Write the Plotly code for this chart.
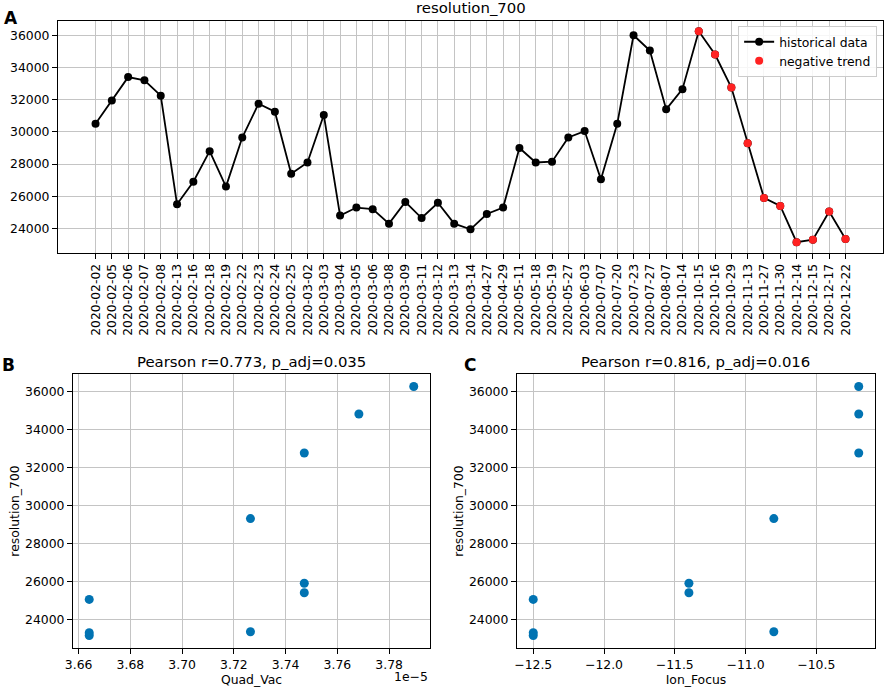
import plotly.graph_objects as go

# resolution_700 over time
dates = ['2020-02-02', '2020-02-05', '2020-02-06', '2020-02-07', '2020-02-08',
         '2020-02-13', '2020-02-16', '2020-02-18', '2020-02-19', '2020-02-22',
         '2020-02-23', '2020-02-24', '2020-02-25', '2020-03-02', '2020-03-03',
         '2020-03-04', '2020-03-05', '2020-03-06', '2020-03-08', '2020-03-09',
         '2020-03-11', '2020-03-12', '2020-03-13', '2020-03-14', '2020-04-27',
         '2020-04-29', '2020-05-11', '2020-05-18', '2020-05-19', '2020-05-27',
         '2020-06-03', '2020-07-07', '2020-07-20', '2020-07-23', '2020-07-27',
         '2020-08-07', '2020-10-14', '2020-10-15', '2020-10-16', '2020-10-29',
         '2020-11-13', '2020-11-27', '2020-11-30', '2020-12-14', '2020-12-15',
         '2020-12-17', '2020-12-22']
resolution = [30500, 31950, 33400, 33200, 32250, 25500, 26900, 28800, 26600, 29650,
              31750, 31250, 27400, 28100, 31050, 24800, 25300, 25200, 24300, 25650,
              24650, 25600, 24300, 23950, 24900, 25300, 29000, 28100, 28150, 29650,
              30050, 27050, 30500, 36000, 35050, 31400, 32650, 36250, 34800, 32750,
              29300, 25900, 25400, 23150, 23300, 25050, 23350]
trend_start = '2020-10-15'

# parameters at the negative-trend points (same order)
quad_vac = [3.7895e-5, 3.7683e-5, 3.7472e-5, 3.7264e-5, 3.7472e-5,
            3.7472e-5, 3.6641e-5, 3.6641e-5, 3.6641e-5, 3.7264e-5]
ion_focus = [-10.2, -10.2, -10.2, -10.8, -11.4, -11.4, -12.5, -12.5, -12.5, -10.8]

quad_ticks = ['3.66', '3.68', '3.70', '3.72', '3.74', '3.76', '3.78']
res_ticks = [24000, 26000, 28000, 30000, 32000, 34000, 36000]

i0 = dates.index(trend_start)
trend_dates = dates[i0:]
trend_res = resolution[i0:]

FONT = 'DejaVu Sans'
GRID = '#c4c4c4'
BLUE = '#0173b2'
fs = 12.4
title_fs = 14.9


def lo_hi(vals):
    pad = (max(vals) - min(vals)) * 0.05
    return [min(vals) - pad, max(vals) + pad]


fig = go.Figure()

fig.add_trace(go.Scatter(x=dates, y=resolution, mode='lines+markers', name='historical data',
                         line=dict(color='black', width=1.8),
                         marker=dict(color='black', size=8), xaxis='x', yaxis='y'))
fig.add_trace(go.Scatter(x=trend_dates, y=trend_res, mode='markers', name='negative trend',
                         marker=dict(color='#ff2222', size=8), xaxis='x', yaxis='y'))

fig.add_trace(go.Scatter(x=quad_vac, y=trend_res, mode='markers', showlegend=False,
                         marker=dict(color=BLUE, size=9), xaxis='x2', yaxis='y2'))
fig.add_trace(go.Scatter(x=ion_focus, y=trend_res, mode='markers', showlegend=False,
                         marker=dict(color=BLUE, size=9), xaxis='x3', yaxis='y3'))

axis_common = dict(showline=True, linecolor='black', linewidth=1.2, mirror=True,
                   ticks='outside', ticklen=5, tickcolor='black', showgrid=True,
                   gridcolor=GRID, gridwidth=1, zeroline=False, automargin=False,
                   tickfont=dict(family=FONT, size=fs, color='black'))

yr = lo_hi(resolution)

fig.update_layout(
    width=886, height=689,
    margin=dict(l=0, r=0, t=0, b=0),
    paper_bgcolor='white', plot_bgcolor='white',
    font=dict(family=FONT, size=fs, color='black'),
    showlegend=True,
    legend=dict(x=0.990, y=0.962, xanchor='right', yanchor='top',
                bgcolor='rgba(255,255,255,0.85)', bordercolor='#cccccc', borderwidth=1,
                font=dict(family=FONT, size=fs), tracegroupgap=0),
    xaxis=dict(axis_common, domain=[0.0655, 0.9966], anchor='y', type='category',
               range=[-2.3, len(dates) - 1 + 2.3], tickmode='array', tickvals=dates,
               ticktext=dates, tickangle=-90),
    yaxis=dict(axis_common, domain=[0.6332, 0.970], anchor='x', range=yr,
               tickvals=res_ticks, tickformat='d'),
    xaxis2=dict(axis_common, domain=[0.0824, 0.4853], anchor='y2', range=lo_hi(quad_vac),
                tickmode='array', tickvals=[float(t) * 1e-5 for t in quad_ticks],
                ticktext=quad_ticks,
                title=dict(text='Quad_Vac', font=dict(family=FONT, size=fs), standoff=4)),
    yaxis2=dict(axis_common, domain=[0.0595, 0.4572], anchor='x2', range=yr,
                tickvals=res_ticks, tickformat='d',
                title=dict(text='resolution_700', font=dict(family=FONT, size=fs), standoff=2)),
    xaxis3=dict(axis_common, domain=[0.5835, 0.9876], anchor='y3', range=lo_hi(ion_focus),
                tick0=-12.5, dtick=0.5, tickformat='.1f',
                title=dict(text='Ion_Focus', font=dict(family=FONT, size=fs), standoff=4)),
    yaxis3=dict(axis_common, domain=[0.0595, 0.4572], anchor='x3', range=yr,
                tickvals=res_ticks, tickformat='d',
                title=dict(text='resolution_700', font=dict(family=FONT, size=fs), standoff=2)),
)

anns = [
    dict(text='resolution_700', x=(0.0655 + 0.9966) / 2, y=0.972, yanchor='bottom',
         size=title_fs),
    dict(text='Pearson r=0.773, p_adj=0.035', x=(0.0824 + 0.4853) / 2, y=0.459,
         yanchor='bottom', size=title_fs),
    dict(text='Pearson r=0.816, p_adj=0.016', x=(0.5835 + 0.9876) / 2, y=0.459,
         yanchor='bottom', size=title_fs),
    dict(text='1e\u22125', x=0.4853, y=0.004, xanchor='right', yanchor='bottom', size=fs),
]
for a in anns:
    size = a.pop('size')
    fig.add_annotation(xref='paper', yref='paper', showarrow=False,
                       font=dict(family=FONT, size=size, color='black'),
                       xanchor=a.pop('xanchor', 'center'), **a)

for letter, x, y in [('A', 0.002, 0.992), ('B', 0.0, 0.488), ('C', 0.521, 0.488)]:
    fig.add_annotation(xref='paper', yref='paper', x=x, y=y, text='<b>%s</b>' % letter,
                       showarrow=False, xanchor='left', yanchor='top',
                       font=dict(family=FONT, size=17, color='black'))

fig.write_html('out.html', config={'displayModeBar': False},
               post_script="document.body.style.margin='0px';")
